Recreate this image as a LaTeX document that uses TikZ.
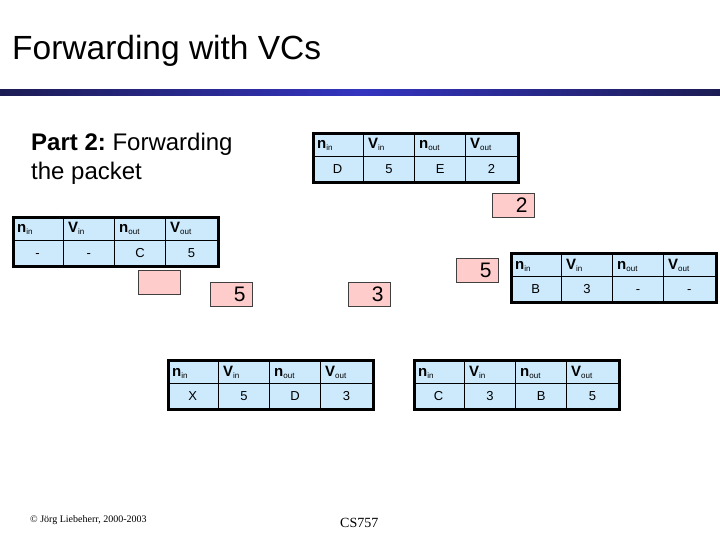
\documentclass[tikz,border=0pt]{standalone}
\usepackage{fontspec}
\setmainfont{Liberation Sans}
\newfontfamily\footserif{Liberation Serif}
\frenchspacing
\definecolor{tabblue}{RGB}{204,234,252}
\definecolor{boxpink}{RGB}{255,204,204}
\definecolor{barend}{RGB}{28,28,84}
\definecolor{barmid}{RGB}{52,52,192}
\tikzset{
  tabbox/.style={draw=black, line width=2.6pt, fill=tabblue, inner sep=0pt},
  tabline/.style={draw=black, line width=1.3pt},
  headcell/.style={anchor=base west, inner sep=0pt, font=\fontsize{15}{15}\selectfont},
  datacell/.style={anchor=base, inner sep=0pt, font=\fontsize{13}{13}\selectfont},
  pinkbox/.style={draw=black!75, line width=0.8pt, fill=boxpink, minimum width=42pt, minimum height=24pt, inner sep=0pt},
  pinknum/.style={anchor=east, inner sep=0pt, font=\fontsize{21}{21}\selectfont}
}
\newcommand\hsub[2]{\textbf{#1}{\fontsize{8}{8}\selectfont\raisebox{-2pt}{#2}}}
% #1 name, #2 x, #3 y (top-left), #4-#7 values
\newcommand\vctab[7]{%
  \node[tabbox, anchor=north west, minimum width=205pt, minimum height=49pt] (#1) at (#2,#3) {};
  \draw[tabline] ([yshift=-24.5pt]#1.north west) -- ([yshift=-24.5pt]#1.north east);
  \foreach \k in {1,2,3}{
    \draw[tabline] ([xshift=\k*51.25pt]#1.north west) -- ([xshift=\k*51.25pt]#1.south west);
  }
  \node[headcell] (#1-h1) at ([xshift=5pt,yshift=-17pt]#1.north west) {\hsub{n}{in}};
  \node[headcell] (#1-h2) at ([xshift=56pt,yshift=-17pt]#1.north west) {\hsub{V}{in}};
  \node[headcell] (#1-h3) at ([xshift=107pt,yshift=-17pt]#1.north west) {\hsub{n}{out}};
  \node[headcell] (#1-h4) at ([xshift=158pt,yshift=-17pt]#1.north west) {\hsub{V}{out}};
  \node[datacell] (#1-d1) at ([xshift=25.6pt,yshift=-41.5pt]#1.north west) {#4};
  \node[datacell] (#1-d2) at ([xshift=76.9pt,yshift=-41.5pt]#1.north west) {#5};
  \node[datacell] (#1-d3) at ([xshift=128.1pt,yshift=-41.5pt]#1.north west) {#6};
  \node[datacell] (#1-d4) at ([xshift=179.4pt,yshift=-41.5pt]#1.north west) {#7};
}
\begin{document}
\begin{tikzpicture}[x=1pt,y=-1pt]
\useasboundingbox (0,0) rectangle (720,540);
\fill[white] (0,0) rectangle (720,540);
% title
\node[anchor=base west, inner sep=0pt, font=\fontsize{33.5}{33.5}\selectfont] (title) at (12,60) {Forwarding with VCs};
\shade[left color=barend, right color=barend, middle color=barmid] (0,90) rectangle (720,96);
% subtitle
\node[anchor=north west, inner sep=0pt, align=left, font=\fontsize{24}{29}\selectfont] (part) at (31,133) {\textbf{Part 2:} Forwarding\\the packet};
% tables
\vctab{tA}{12}{216}{-}{-}{C}{5}
\vctab{tB}{312}{132}{D}{5}{E}{2}
\vctab{tC}{510}{252}{B}{3}{-}{-}
\vctab{tD}{167}{359}{X}{5}{D}{3}
\vctab{tE}{413}{359}{C}{3}{B}{5}
% pink boxes
\node[pinkbox, anchor=north west] (p0) at (138,270) {};
\node[pinkbox, anchor=north west] (p1) at (210,282) {};
\node[pinknum] (n1) at ([xshift=-7pt]p1.east) {5};
\node[pinkbox, anchor=north west] (p2) at (492,193) {};
\node[pinknum] (n2) at ([xshift=-7pt]p2.east) {2};
\node[pinkbox, anchor=north west] (p3) at (456,258) {};
\node[pinknum] (n3) at ([xshift=-7pt]p3.east) {5};
\node[pinkbox, anchor=north west] (p4) at (348,282) {};
\node[pinknum] (n4) at ([xshift=-7pt]p4.east) {3};
% footer
\node[anchor=base west, inner sep=0pt, font=\footserif\fontsize{10}{10}\selectfont] (copy) at (30,522) {© Jörg Liebeherr, 2000-2003};
\node[anchor=base west, inner sep=0pt, font=\footserif\fontsize{14}{14}\selectfont] (cs) at (340,527) {CS757};
\end{tikzpicture}
\end{document}
